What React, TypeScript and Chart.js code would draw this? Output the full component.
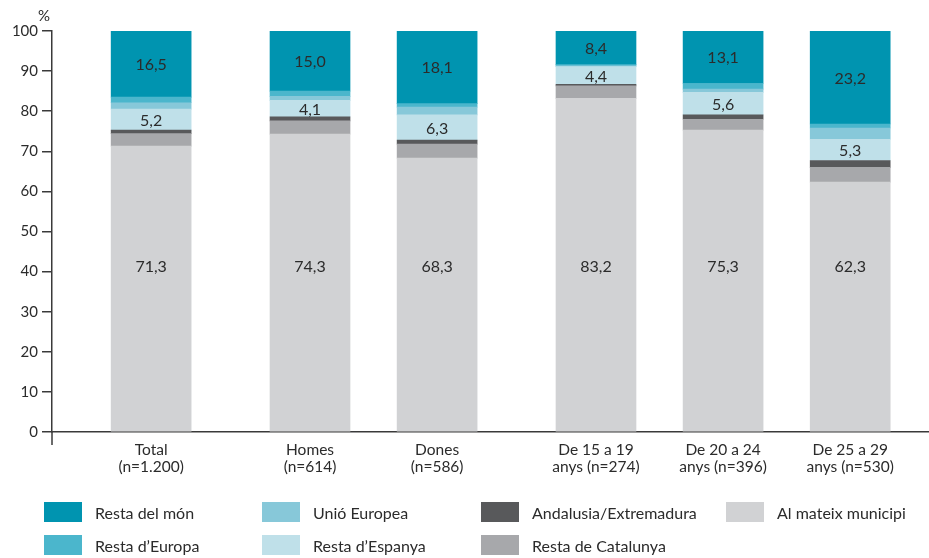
import React, { useEffect, useRef } from 'react';
import { Chart, registerables } from 'chart.js';

Chart.register(...registerables);

// ---- data ----
const categories: string[][] = [
  ['Total', '(n=1.200)'],
  ['Homes', '(n=614)'],
  ['Dones', '(n=586)'],
  ['De 15 a 19', 'anys (n=274)'],
  ['De 20 a 24', 'anys (n=396)'],
  ['De 25 a 29', 'anys (n=530)'],
];
const categoryGroups = [0, 1, 1, 2, 2, 2];

const alMateixMunicipi = [71.3, 74.3, 68.3, 83.2, 75.3, 62.3];
const restaDeCatalunya = [3.1, 3.3, 3.5, 3.1, 2.7, 3.7];
const andalusiaExtremadura = [0.9, 1.0, 1.0, 0.4, 1.1, 1.7];
const restaDEspanya = [5.2, 4.1, 6.3, 4.4, 5.6, 5.3];
const unioEuropea = [1.6, 1.0, 1.9, 0.2, 0.8, 2.8];
const restaDEuropa = [1.4, 1.3, 0.9, 0.3, 1.4, 1.0];
const restaDelMon = [16.5, 15.0, 18.1, 8.4, 13.1, 23.2];

const yUnit = '%';

// ---- style ----
const FONT = 'Lato, "Open Sans", sans-serif';
const TEXT = '#2b2b2b';
const AXIS = '#3a3a3a';
const GROUP_GAP = 0.25;

const xPositions = categories.map((_, i) => i + categoryGroups[i] * GROUP_GAP);

type Series = { name: string; values: number[]; color: string; label?: 'center' | number };

// bottom -> top stack order
const series: Series[] = [
  { name: 'Al mateix municipi', values: alMateixMunicipi, color: '#d1d2d4', label: 41.4 },
  { name: 'Resta de Catalunya', values: restaDeCatalunya, color: '#a7a8ab' },
  { name: 'Andalusia/Extremadura', values: andalusiaExtremadura, color: '#58595b' },
  { name: "Resta d\u2019Espanya", values: restaDEspanya, color: '#bfe0e9', label: 'center' },
  { name: 'Unió Europea', values: unioEuropea, color: '#87c8d9' },
  { name: "Resta d\u2019Europa", values: restaDEuropa, color: '#4bb6cc' },
  { name: 'Resta del món', values: restaDelMon, color: '#0094b0', label: 'center' },
];

const fmt = (v: number) => v.toFixed(1).replace('.', ',');

const segLabelPlugin = {
  id: 'segLabels',
  afterDatasetsDraw(chart: any) {
    const ctx = chart.ctx;
    ctx.save();
    ctx.font = `16px ${FONT}`;
    ctx.fillStyle = TEXT;
    ctx.textAlign = 'center';
    ctx.textBaseline = 'middle';
    chart.data.datasets.forEach((ds: any, di: number) => {
      const lab = ds.segLabel;
      if (lab === undefined) return;
      const meta = chart.getDatasetMeta(di);
      meta.data.forEach((el: any, i: number) => {
        const v = ds.data[i].y;
        let y: number;
        if (typeof lab === 'number') y = chart.scales.y.getPixelForValue(lab);
        else {
          const p = el.getProps(['y', 'base'], true);
          y = (p.y + p.base) / 2;
        }
        ctx.fillText(fmt(v), el.x, y + 1);
      });
    });
    ctx.restore();
  },
};

const axisExtrasPlugin = {
  id: 'axisExtras',
  afterDraw(chart: any) {
    const ctx = chart.ctx;
    const { left, bottom, top } = chart.chartArea;
    ctx.save();
    ctx.strokeStyle = AXIS;
    ctx.lineWidth = 1.5;
    ctx.beginPath();
    ctx.moveTo(left, bottom);
    ctx.lineTo(left, bottom + 13);
    ctx.stroke();
    ctx.font = `15px ${FONT}`;
    ctx.fillStyle = TEXT;
    ctx.textAlign = 'center';
    ctx.textBaseline = 'middle';
    ctx.fillText(yUnit, left - 8, top - 15);
    ctx.restore();
  },
};

export default function App() {
  const ref = useRef<HTMLCanvasElement>(null);

  useEffect(() => {
    document.body.style.margin = '0';
    const canvas = ref.current!;
    const chart = new Chart(canvas, {
      type: 'bar',
      data: {
        datasets: series.map((s) => ({
          label: s.name,
          data: s.values.map((v, i) => ({ x: xPositions[i], y: v })),
          backgroundColor: s.color,
          borderWidth: 0,
          barThickness: 80,
          segLabel: s.label,
        })) as any,
      },
      options: {
        animation: false,
        responsive: false,
        devicePixelRatio: 1,
        layout: { padding: { top: 31, right: 0, bottom: 0, left: 0 } },
        plugins: {
          legend: { display: false },
          tooltip: { enabled: false },
        },
        scales: {
          x: {
            type: 'linear',
            stacked: true,
            offset: false,
            min: -0.78,
            max: 6.12,
            afterBuildTicks: (axis: any) => {
              axis.ticks = xPositions.map((v) => ({ value: v }));
            },
            afterFit: (axis: any) => {
              axis.height = 126;
              axis.paddingLeft = 0;
              axis.paddingRight = 0;
            },
            ticks: {
              autoSkip: false,
              maxRotation: 0,
              padding: 10,
              color: TEXT,
              font: { family: FONT, size: 15.5, lineHeight: 1.08 },
              callback: (_v: any, i: number) => categories[i],
            },
            grid: { display: true, offset: false, drawOnChartArea: false, drawTicks: false, color: AXIS },
            border: { display: true, color: AXIS, width: 1.5 },
          },
          y: {
            stacked: true,
            min: 0,
            max: 100,
            afterFit: (axis: any) => {
              axis.width = 52;
            },
            ticks: {
              stepSize: 10,
              padding: 4,
              color: TEXT,
              font: { family: FONT, size: 15 },
            },
            grid: {
              display: true,
              drawOnChartArea: false,
              drawTicks: true,
              tickLength: 10,
              color: AXIS,
              lineWidth: 1.5,
            },
            border: { display: true, color: AXIS, width: 1.5 },
          },
        },
      } as any,
      plugins: [segLabelPlugin, axisExtrasPlugin],
    });
    return () => chart.destroy();
  }, []);

  const legendItems = [...series].reverse();
  const colX = [44, 262, 481, 726];
  const rowY = [502, 535];

  return (
    <div style={{ position: 'relative', width: 929, height: 558 }}>
      <canvas ref={ref} width={929} height={558} style={{ position: 'absolute', left: 0, top: 0 }} />
      {legendItems.map((s, i) => {
        const c = Math.floor(i / 2);
        const r = i % 2;
        return (
          <div
            key={s.name}
            style={{
              position: 'absolute',
              left: colX[c],
              top: rowY[r],
              height: 20,
              display: 'flex',
              alignItems: 'center',
              fontFamily: FONT,
              fontSize: 16,
              color: TEXT,
              whiteSpace: 'nowrap',
            }}
          >
            <span style={{ display: 'inline-block', width: 38, height: 20, background: s.color, marginRight: 13 }} />
            <span>{s.name}</span>
          </div>
        );
      })}
    </div>
  );
}
